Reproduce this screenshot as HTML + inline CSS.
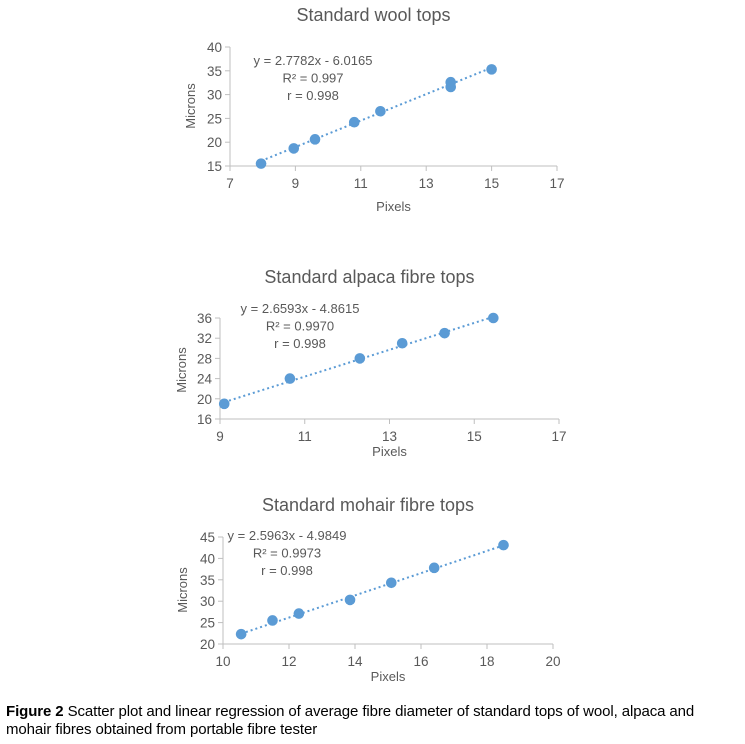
<!DOCTYPE html>
<html><head><meta charset="utf-8"><style>
body{margin:0;background:#fff;width:745px;height:744px;overflow:hidden;position:relative;font-family:"Liberation Sans",sans-serif}
#cap{position:absolute;left:6px;top:703px;font-size:15px;line-height:18px;color:#000;width:740px;letter-spacing:-0.1px;white-space:nowrap}
svg text{font-family:"Liberation Sans",sans-serif;fill:#595959}
</style></head><body>
<svg id="svg" width="745" height="700" style="position:absolute;left:0;top:0"></svg>
<div id="cap"><b>Figure 2</b> Scatter plot and linear regression of average fibre diameter of standard tops of wool, alpaca and<br>mohair fibres obtained from portable fibre tester</div>
<script>
const woolX=[7.95,8.95,9.6,10.8,11.6,13.75,13.75,15];
const woolY=[15.5,18.7,20.6,24.2,26.5,31.6,32.6,35.3];
const alpacaX=[9.1,10.65,12.3,13.3,14.3,15.45];
const alpacaY=[19,24,28,31,33,36];
const mohairX=[10.55,11.5,12.3,13.85,15.1,16.4,18.5];
const mohairY=[22.3,25.5,27.1,30.3,34.3,37.8,43.1];
const woolXTicks=[7,9,11,13,15,17];
const woolYTicks=[15,20,25,30,35,40];
const alpacaXTicks=[9,11,13,15,17];
const alpacaYTicks=[16,20,24,28,32,36];
const mohairXTicks=[10,12,14,16,18,20];
const mohairYTicks=[20,25,30,35,40,45];
const woolFit=[2.7782,-6.0165];
const alpacaFit=[2.6593,-4.8615];
const mohairFit=[2.5963,-4.9849];

const NS="http://www.w3.org/2000/svg";
const svg=document.getElementById('svg');
function mk(tag,attrs,parent){const e=document.createElementNS(NS,tag);for(const k in attrs)e.setAttribute(k,attrs[k]);(parent||svg).appendChild(e);return e;}
function txt(s,attrs,parent){const t=mk('text',attrs,parent);t.textContent=s;return t;}

function chart(cfg){
  const g=mk('g',{});
  
  
  const xmin=cfg.xt[0],xmax=cfg.xt[cfg.xt.length-1],ymin=cfg.yt[0],ymax=cfg.yt[cfg.yt.length-1];
  const sx=v=>cfg.x0+(v-xmin)/(xmax-xmin)*(cfg.x1-cfg.x0);
  const sy=v=>cfg.y0-(v-ymin)/(ymax-ymin)*(cfg.y0-cfg.y1);
  const t=txt(cfg.title,{x:(cfg.x0+cfg.x1)/2-20,y:cfg.ty,'font-size':18,'text-anchor':'middle'},g);
  
  const ya=mk('line',{x1:cfg.x0,y1:cfg.y0,x2:cfg.x0,y2:cfg.y1,stroke:'#bfbfbf','stroke-width':1},g);
  
  const xa=mk('line',{x1:cfg.x0,y1:cfg.y0,x2:cfg.x1,y2:cfg.y0,stroke:'#bfbfbf','stroke-width':1},g);
  
  cfg.xt.forEach(v=>{
    mk('line',{x1:sx(v),y1:cfg.y0,x2:sx(v),y2:cfg.y0+5,stroke:'#bfbfbf'},g);
    const l=txt(v,{x:sx(v),y:cfg.y0+22,'font-size':13.5,'text-anchor':'middle'},g);
    
  });
  cfg.yt.forEach(v=>{
    mk('line',{x1:cfg.x0-5,y1:sy(v),x2:cfg.x0,y2:sy(v),stroke:'#bfbfbf'},g);
    const l=txt(v,{x:cfg.x0-8,y:sy(v)+5,'font-size':13.5,'text-anchor':'end'},g);
    
  });
  const xl=txt('Pixels',{x:(cfg.x0+cfg.x1)/2,y:cfg.pxy,'font-size':13,'text-anchor':'middle'},g);
  
  const yl=txt('Microns',{x:0,y:0,'font-size':13,'text-anchor':'middle',transform:`translate(${cfg.mx},${cfg.my}) rotate(-90)`},g);
  
  const xs=cfg.xs,ys=cfg.ys;
  const lo=Math.min(...xs),hi=Math.max(...xs);
  const tl=mk('line',{x1:sx(lo),y1:sy(cfg.fit[0]*lo+cfg.fit[1]),x2:sx(hi),y2:sy(cfg.fit[0]*hi+cfg.fit[1]),stroke:'#5b9bd5','stroke-width':2,'stroke-dasharray':'2 3'},g);
  
  xs.forEach((x,i)=>{
    const c=mk('circle',{cx:sx(x),cy:sy(ys[i]),r:5.3,fill:'#5b9bd5'},g);
    
  });
  cfg.eq.forEach((s,i)=>{
    const e=txt(s,{x:cfg.ex,y:cfg.ey+i*17.5,'font-size':13,'text-anchor':'middle'},g);
    
  });
}
chart({name:'wool-chart',title:'Standard wool tops',x0:230,x1:557,y0:166,y1:47,xt:woolXTicks,yt:woolYTicks,xs:woolX,ys:woolY,fit:woolFit,ty:21,pxy:211,mx:195,my:106,ex:313,ey:65,eq:['y = 2.7782x - 6.0165','R² = 0.997','r = 0.998']});
chart({name:'alpaca-chart',title:'Standard alpaca fibre tops',x0:220,x1:559,y0:419,y1:318,xt:alpacaXTicks,yt:alpacaYTicks,xs:alpacaX,ys:alpacaY,fit:alpacaFit,ty:283,pxy:456,mx:186,my:370,ex:300,ey:313,eq:['y = 2.6593x - 4.8615','R² = 0.9970','r = 0.998']});
chart({name:'mohair-chart',title:'Standard mohair fibre tops',x0:223,x1:553,y0:644,y1:537,xt:mohairXTicks,yt:mohairYTicks,xs:mohairX,ys:mohairY,fit:mohairFit,ty:511,pxy:681,mx:187,my:590,ex:287,ey:540,eq:['y = 2.5963x - 4.9849','R² = 0.9973','r = 0.998']});
</script>
</body></html>
